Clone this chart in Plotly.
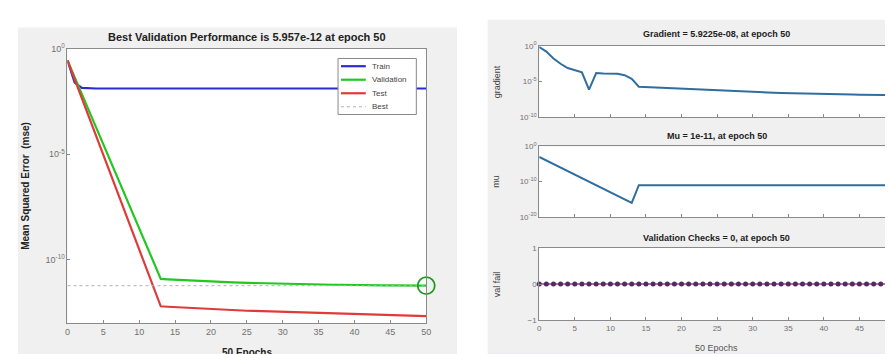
import plotly.graph_objects as go

W, H = 893, 354

epochs = list(range(51))

# log10 of MSE
train_log = [-0.55, -1.6, -1.85] + [-1.88] * 48
val_log = [-0.55, -1.35, -2.15, -2.95, -3.75, -4.55, -5.35, -6.15, -6.95, -7.75,
           -8.55, -9.35, -10.15, -10.9, -10.92, -10.94, -10.96, -10.98, -11.0, -11.02,
           -11.04, -11.05, -11.06, -11.07, -11.08, -11.09, -11.1, -11.11, -11.12, -11.13,
           -11.14, -11.15, -11.15, -11.16, -11.16, -11.17, -11.17, -11.18, -11.18, -11.19,
           -11.19, -11.2, -11.2, -11.21, -11.21, -11.21, -11.22, -11.22, -11.22, -11.22, -11.225]
test_log = [-0.55, -1.45, -2.35, -3.25, -4.15, -5.05, -5.95, -6.85, -7.75, -8.65,
            -9.55, -10.45, -11.35, -12.2, -12.22, -12.24, -12.26, -12.28, -12.3, -12.32,
            -12.34, -12.36, -12.37, -12.38, -12.4, -12.41, -12.42, -12.43, -12.44, -12.46,
            -12.47, -12.48, -12.49, -12.5, -12.51, -12.52, -12.53, -12.54, -12.55, -12.56,
            -12.57, -12.58, -12.59, -12.6, -12.61, -12.62, -12.63, -12.64, -12.65, -12.66, -12.67]
best_value = 5.957e-12
best_epoch = 50

grad_log = [-0.15, -0.8, -1.75, -2.5, -3.1, -3.4, -3.7, -6.1, -3.8, -3.85,
            -3.88, -3.9, -4.1, -4.6, -5.7, -5.75, -5.8, -5.85, -5.9, -5.95,
            -6.0, -6.05, -6.1, -6.15, -6.2, -6.25, -6.3, -6.35, -6.4, -6.43,
            -6.46, -6.5, -6.53, -6.56, -6.59, -6.62, -6.65, -6.67, -6.69, -6.71,
            -6.73, -6.75, -6.77, -6.78, -6.8, -6.82, -6.84, -6.85, -6.86, -6.88, -6.9]
mu_log = [-3, -4, -5, -6, -7, -8, -9, -10, -11, -12, -13, -14, -15, -16] + [-11] * 37
val_fail = [0] * 51

xticks = [0, 5, 10, 15, 20, 25, 30, 35, 40, 45, 50]

legend_names = ["Train", "Validation", "Test", "Best"]
legend_colors = ["#2b2bd6", "#22c722", "#e03a3a", "#b0b0b0"]

FONT = "Liberation Sans, Arial, sans-serif"
TICKC = "#707070"

def px_x(a, b):
    return [a / W, b / W]

def px_y(top, bot):
    return [1 - bot / H, 1 - top / H]

fig = go.Figure()

# Left panel
fig.add_trace(go.Scatter(x=epochs, y=[10 ** v for v in train_log], mode="lines", name="Train",
                         line=dict(color=legend_colors[0], width=2.2), xaxis="x", yaxis="y"))
fig.add_trace(go.Scatter(x=epochs, y=[10 ** v for v in val_log], mode="lines", name="Validation",
                         line=dict(color=legend_colors[1], width=2.2), xaxis="x", yaxis="y"))
fig.add_trace(go.Scatter(x=epochs, y=[10 ** v for v in test_log], mode="lines", name="Test",
                         line=dict(color=legend_colors[2], width=2.2), xaxis="x", yaxis="y"))
fig.add_trace(go.Scatter(x=[0, best_epoch], y=[best_value, best_value], mode="lines", name="Best",
                         line=dict(color=legend_colors[3], width=1, dash="dot"), xaxis="x", yaxis="y"))
fig.add_trace(go.Scatter(x=[best_epoch], y=[best_value], mode="markers", cliponaxis=False,
                         marker=dict(symbol="circle-open", size=17, color="#1f9a1f",
                                     line=dict(width=1.8, color="#1f9a1f")),
                         xaxis="x", yaxis="y"))

# Right panels
fig.add_trace(go.Scatter(x=epochs, y=[10 ** v for v in grad_log], mode="lines",
                         line=dict(color="#2f6e9e", width=2), xaxis="x2", yaxis="y2"))
fig.add_trace(go.Scatter(x=epochs, y=[10 ** v for v in mu_log], mode="lines",
                         line=dict(color="#2f6e9e", width=2), xaxis="x3", yaxis="y3"))
fig.add_trace(go.Scatter(x=epochs, y=val_fail, mode="lines+markers", cliponaxis=False,
                         line=dict(color="#c8306a", width=1.5),
                         marker=dict(size=5, color="#4a2f66", line=dict(width=0)),
                         xaxis="x4", yaxis="y4"))

axis_common = dict(showline=True, linecolor="#8a8a8a", linewidth=1, mirror=True,
                   ticks="inside", ticklen=3, tickcolor="#8a8a8a", showgrid=False,
                   zeroline=False, tickfont=dict(family=FONT, size=9, color=TICKC))

def sup(e):
    return "10<sup>%d</sup>" % e

shapes = [
    dict(type="rect", xref="paper", yref="paper", x0=7 / W, x1=450 / W, y0=0, y1=1 - 13 / H,
         fillcolor="#f0f0f0", line=dict(width=0), layer="below"),
    dict(type="rect", xref="paper", yref="paper", x0=481 / W, x1=1, y0=4 / H, y1=1 - 5 / H,
         fillcolor="#f0f0f0", line=dict(width=0), layer="below"),
    dict(type="rect", xref="paper", yref="paper", x0=481 / W, x1=1, y0=0, y1=4 / H,
         fillcolor="#dfe8f4", line=dict(width=0), layer="below"),
]
for (a, b, t, bt) in [(57, 419, 35, 319), (533, 892, 32, 106), (533, 892, 136, 209), (533, 892, 241, 316)]:
    shapes.append(dict(type="rect", xref="paper", yref="paper", x0=a / W, x1=b / W,
                       y0=1 - bt / H, y1=1 - t / H, fillcolor="white", line=dict(width=0), layer="below"))

def ann(text, x, y, size, color="#222", angle=0):
    return dict(text=text, x=x / W, y=1 - y / H, xref="paper", yref="paper", showarrow=False,
                xanchor="center", yanchor="middle", textangle=angle,
                font=dict(family=FONT, size=size, color=color))

annotations = [
    ann("<b>Best Validation Performance is 5.957e-12 at epoch 50</b>", 238, 23, 11),
    ann("<b>Mean Squared Error  (mse)</b>", 14, 177, 10, angle=-90),
    ann("<b>50 Epochs</b>", 238, 349, 10),
    ann("<b>Gradient = 5.9225e-08, at epoch 50</b>", 712, 20, 9),
    ann("<b>Mu = 1e-11, at epoch 50</b>", 712, 125, 9),
    ann("<b>Validation Checks = 0, at epoch 50</b>", 712, 231, 9),
    ann("gradient", 490, 69, 9, "#444", -90),
    ann("mu", 490, 172, 9, "#444", -90),
    ann("val fail", 490, 279, 9, "#444", -90),
    ann("50 Epochs", 712, 345, 9, "#555"),
]

# manual legend box
shapes.append(dict(type="rect", xref="paper", yref="paper", x0=330 / W, x1=409 / W,
                   y0=1 - 103 / H, y1=1 - 45 / H, fillcolor="white",
                   line=dict(color="#8a8a8a", width=1)))
for i, (nm, col) in enumerate(zip(legend_names, legend_colors)):
    yy = 53 + i * 14
    shapes.append(dict(type="line", xref="paper", yref="paper", x0=333 / W, x1=358 / W,
                       y0=1 - yy / H, y1=1 - yy / H,
                       line=dict(color=col, width=1 if nm == "Best" else 2.2,
                                 dash="dot" if nm == "Best" else "solid")))
    annotations.append(dict(text=nm, x=362 / W, y=1 - yy / H, xref="paper", yref="paper",
                            showarrow=False, xanchor="left", yanchor="middle",
                            font=dict(family=FONT, size=8, color="#444")))

fig.update_layout(
    width=W, height=H, margin=dict(l=0, r=0, t=0, b=0),
    paper_bgcolor="white", plot_bgcolor="rgba(0,0,0,0)",
    shapes=shapes, annotations=annotations, showlegend=False,
    font=dict(family=FONT),
    xaxis=dict(domain=px_x(57, 419), anchor="y", range=[0, 50], tickvals=xticks, **axis_common),
    yaxis=dict(domain=px_y(35, 319), anchor="x", type="log", range=[-13, 0],
               tickvals=[1e-10, 1e-5, 1], ticktext=[sup(-10), sup(-5), sup(0)], **axis_common),
    xaxis2=dict(domain=px_x(533, 892), anchor="y2", range=[0, 50], tickvals=xticks,
                showticklabels=False, **axis_common),
    yaxis2=dict(domain=px_y(32, 106), anchor="x2", type="log", range=[-10, 0],
                tickvals=[1e-10, 1e-5, 1], ticktext=[sup(-10), sup(-5), sup(0)], **axis_common),
    xaxis3=dict(domain=px_x(533, 892), anchor="y3", range=[0, 50], tickvals=xticks,
                showticklabels=False, **axis_common),
    yaxis3=dict(domain=px_y(136, 209), anchor="x3", type="log", range=[-20, 0],
                tickvals=[1e-20, 1e-10, 1], ticktext=[sup(-20), sup(-10), sup(0)], **axis_common),
    xaxis4=dict(domain=px_x(533, 892), anchor="y4", range=[0, 50], tickvals=xticks, **axis_common),
    yaxis4=dict(domain=px_y(241, 316), anchor="x4", range=[-1, 1], tickvals=[-1, 0, 1], **axis_common),
)
for ax in ["xaxis2", "yaxis2", "xaxis3", "yaxis3", "xaxis4", "yaxis4"]:
    fig.layout[ax].tickfont.size = 8

fig.write_html("out.html")
